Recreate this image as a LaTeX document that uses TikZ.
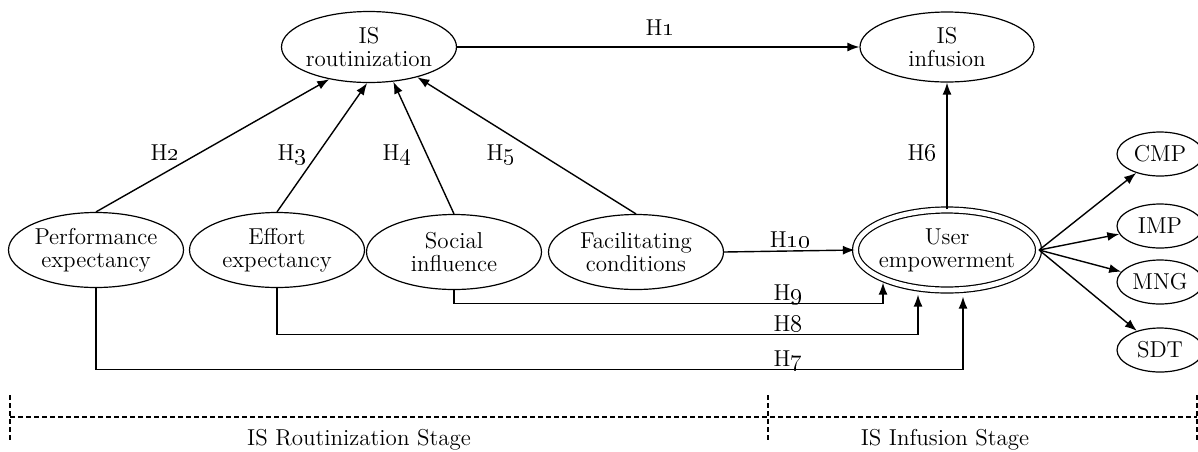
\documentclass[tikz,border=0pt]{standalone}
\usetikzlibrary{shapes.geometric,arrows.meta}

\newcommand{\hyp}[1]{H\oldstylenums{#1}}

\begin{document}
\begin{tikzpicture}[x=0.5pt,y=-0.5pt,
	txt/.style={font=\fontsize{11.5}{11.5}\selectfont},
	construct/.style={txt,ellipse,draw,line width=0.6pt,inner xsep=-12pt,inner ysep=0pt,align=center,minimum width=87.5pt,minimum height=37.5pt},
	dimension/.style={construct,inner xsep=0pt,minimum width=43pt,minimum height=22pt},
	link/.style={line width=0.7pt,-{Latex[length=6pt,width=4.5pt]}},
	stage/.style={line width=0.6pt,dash pattern=on 2.5pt off 1.5pt}]
	\useasboundingbox (0,0) rectangle (1198,451);

	\node [construct,minimum height=35.5pt](ISR) at (369,47) {IS\\routinization};
	\node [construct,minimum width=87pt,minimum height=35pt](ISI) at (947,47) {IS\\infusion};
	\node [construct](PE) at (96,250) {Performance\\expectancy};
	\node [construct](EE) at (277,250) {Effort\\expectancy};
	\node [construct](SI) at (454,252) {Social\\influence};
	\node [construct](FC) at (636,252) {Facilitating\\conditions};
	\node [construct,double,double distance=2.4pt,minimum width=91.5pt,minimum height=40pt](UE) at (947,250) {User\\empowerment};

	\node [dimension](CMP) at (1160,154) {CMP};
	\node [dimension](IMP) at (1160,226) {IMP};
	\node [dimension](MNG) at (1160,282) {MNG};
	\node [dimension](SDT) at (1160,350) {SDT};

	\draw [link] (ISR.east) -- (ISI.west);
	\draw [link] (PE.north) -- (ISR.219);
	\draw [link] (EE.north) -- (ISR.267);
	\draw [link] (SI.north) -- (ISR.305);
	\draw [link] (FC.north) -- (ISR.328);
	\draw [link] (UE.north) -- (ISI.south);
	\draw [link] (FC.east) -- (UE.west);

	\draw [link] (SI.south) -- ++(0,13.5) -| ([shift={(-64,-8)}]UE.south);
	\draw [link] (EE.south) -- ++(0,46.5) -| ([shift={(-29,4)}]UE.south);
	\draw [link] (PE.south) -- ++(0,81.5) -| ([shift={(16,6)}]UE.south);

	\draw [link] (UE.east) -- (CMP);
	\draw [link] (UE.east) -- (IMP);
	\draw [link] (UE.east) -- (MNG);
	\draw [link] (UE.east) -- (SDT);

	\node [txt,anchor=base](H1) at (660,35) {\hyp{1}};
	\node [txt,anchor=base](H2) at (165,160) {\hyp{2}};
	\node [txt,anchor=base](H3) at (292,160) {\hyp{3}};
	\node [txt,anchor=base](H4) at (397,160) {\hyp{4}};
	\node [txt,anchor=base](H5) at (501,160) {\hyp{5}};
	\node [txt,anchor=base](H6) at (922,160) {\hyp{6}};
	\node [txt,anchor=base](H7) at (788,366) {\hyp{7}};
	\node [txt,anchor=base](H8) at (788,331) {\hyp{8}};
	\node [txt,anchor=base](H9) at (788,300) {\hyp{9}};
	\node [txt,anchor=base](H10) at (790,247) {\hyp{10}};

	% stages
	\draw [stage] (10,417) -- (1197,417);
	\draw [stage] (10,395) -- (10,442);
	\draw [stage] (768,395) -- (768,442);
	\draw [stage] (1197,395) -- (1197,442);
	\node [txt,anchor=base](RSTAGE) at (359,445) {IS Routinization Stage};
	\node [txt,anchor=base](ISTAGE) at (945,445) {IS Infusion Stage};

\end{tikzpicture}
\end{document}
